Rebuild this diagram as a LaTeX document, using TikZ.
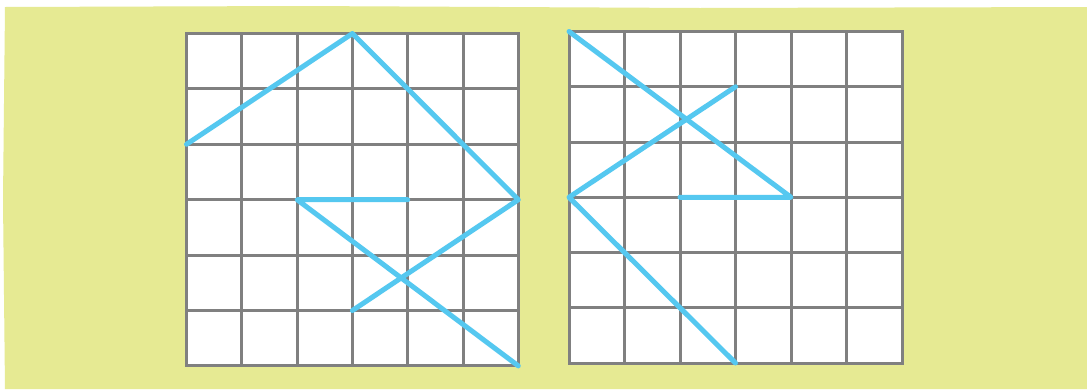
\documentclass[tikz,border=0pt]{standalone}
\begin{document}
\begin{tikzpicture}[x=1pt,y=-1pt,
  gridline/.style={draw=gridgray,line width=3pt,line cap=rect},
  pathline/.style={draw=pathblue,line width=5pt,line cap=round,line join=round}]
\definecolor{bgyellow}{HTML}{E6EA93}
\definecolor{gridgray}{HTML}{808080}
\definecolor{pathblue}{HTML}{55C8F0}
\useasboundingbox (0,0) rectangle (1087,389);
\fill[white] (0,0) rectangle (1087,389);
\fill[bgyellow] (5,7) -- (300,6) -- (700,8) -- (1087,7) -- (1087,389) -- (5,389) -- (3,200) -- cycle;
% left grid
\begin{scope}[shift={(186.5,33.5)},x=55.3pt,y=-55.4pt]
  \fill[white] (0,0) rectangle (6,6);
  \foreach \i in {0,...,6} {
    \draw[gridline] (\i,0) -- (\i,6);
    \draw[gridline] (0,\i) -- (6,\i);
  }
  \coordinate (La) at (0,2);
  \coordinate (Lb) at (3,0);
  \coordinate (Lc) at (6,3);
  \coordinate (Ld) at (3,5);
  \coordinate (Le) at (2,3);
  \coordinate (Lf) at (4,3);
  \coordinate (Lg) at (6,6);
  \draw[pathline] (La) -- (Lb) -- (Lc) -- (Ld);
  \draw[pathline] (Lf) -- (Le) -- (Lg);
\end{scope}
% right grid
\begin{scope}[shift={(569,31.5)},x=55.5pt,y=-55.25pt]
  \fill[white] (0,0) rectangle (6,6);
  \foreach \i in {0,...,6} {
    \draw[gridline] (\i,0) -- (\i,6);
    \draw[gridline] (0,\i) -- (6,\i);
  }
  \coordinate (Ra) at (0,0);
  \coordinate (Rb) at (4,3);
  \coordinate (Rc) at (2,3);
  \coordinate (Rd) at (3,1);
  \coordinate (Re) at (0,3);
  \coordinate (Rf) at (3,6);
  \draw[pathline] (Ra) -- (Rb) -- (Rc);
  \draw[pathline] (Rd) -- (Re) -- (Rf);
\end{scope}
\end{tikzpicture}
\end{document}
